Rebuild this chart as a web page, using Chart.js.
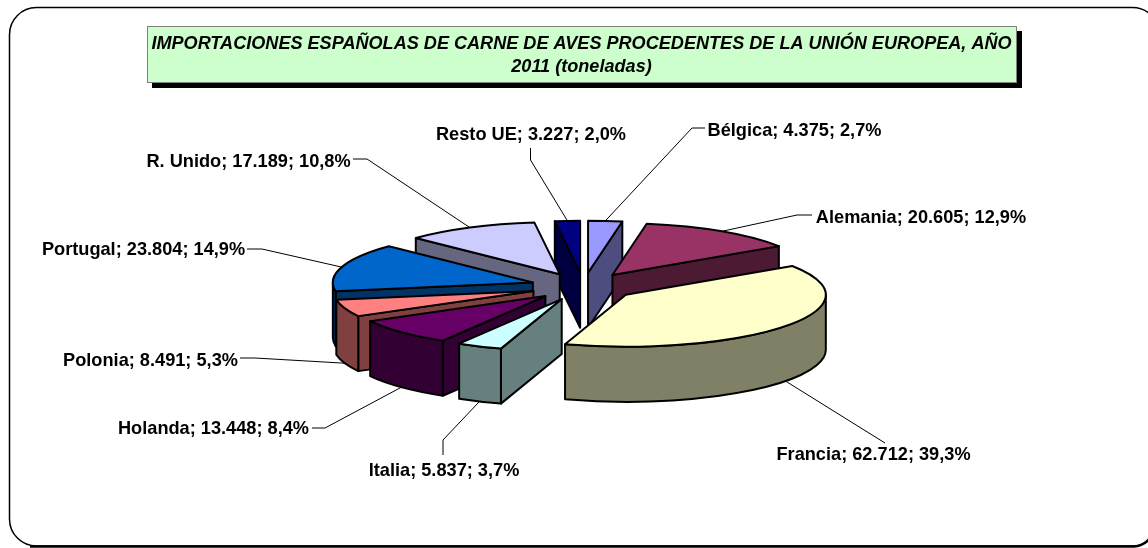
<!DOCTYPE html>
<html><head><meta charset="utf-8">
<style>html,body{margin:0;padding:0;background:#fff;overflow:hidden}canvas{display:block}</style>
<script src="https://cdn.jsdelivr.net/npm/chart.js@4"></script>
</head><body>
<canvas id="c" width="1148" height="548"></canvas>
<script>
const titleLines = ['IMPORTACIONES ESPAÑOLAS DE CARNE DE AVES PROCEDENTES DE LA UNIÓN EUROPEA, AÑO','2011 (toneladas)'];
const categories = ['Bélgica','Alemania','Francia','Italia','Holanda','Polonia','Portugal','R. Unido','Resto UE'];
const valueText = ['4.375','20.605','62.712','5.837','13.448','8.491','23.804','17.189','3.227'];
const percentText = ['2,7%','12,9%','39,3%','3,7%','8,4%','5,3%','14,9%','10,8%','2,0%'];
const values = [4375,20605,62712,5837,13448,8491,23804,17189,3227];
const topColors = ['#9999FF','#993366','#FFFFCC','#CCFFFF','#660066','#FF8080','#0066CC','#CCCCFF','#000080'];
const sideColors = ['#4D4D80','#4D1A33','#808066','#668080','#330033','#804040','#003366','#666680','#000040'];

// label layout: text centre and the leader's start/elbow
const labelX = [794.5,921,873.5,444,213.5,150.5,143.5,248.5,531];
const labelY = [131,218,455,471,429,361,250,162,135];
const leadStart = [[705,128],[812,215],[885,443],[443,455],[312,428],[240,358],[247,249],[353,159],[530.5,148]];
const leadElbow = [[692,128],[797,215],null,[443,440],[325,428],[255,358],[262,249],[367,159],[530.5,160]];

const RADIUS=200, SQUASH=0.26, EXPLODE=53, DEPTH=55;

function geom(arc,chart){
  const p = arc.getProps(['x','y','startAngle','endAngle','outerRadius'],true);
  const mid=(p.startAngle+p.endAngle)/2;
  const y0=(chart.chartArea.top+chart.chartArea.bottom)/2;
  return {a:p.startAngle,b:p.endAngle,mid,r:p.outerRadius,cx:p.x,cy:y0+(p.y-y0)*SQUASH,y0};
}
function rim(g,ang){return [g.cx+g.r*Math.cos(ang), g.cy+g.r*SQUASH*Math.sin(ang)];}

function drawWalls(ctx,g,fill){
  ctx.fillStyle=fill; ctx.strokeStyle='#000'; ctx.lineWidth=2; ctx.lineJoin='round';
  const quad=(ang)=>{
    const e=rim(g,ang);
    ctx.beginPath();ctx.moveTo(g.cx,g.cy);ctx.lineTo(e[0],e[1]);ctx.lineTo(e[0],e[1]+DEPTH);ctx.lineTo(g.cx,g.cy+DEPTH);ctx.closePath();
    ctx.fill();ctx.stroke();
  };
  if(-Math.cos(g.a)>1e-6) quad(g.a);
  if(Math.cos(g.b)>1e-6) quad(g.b);
  const s=Math.max(g.a,0), e=Math.min(g.b,Math.PI);
  if(e>s){
    ctx.beginPath();
    ctx.ellipse(g.cx,g.cy,g.r,g.r*SQUASH,0,s,e);
    ctx.ellipse(g.cx,g.cy+DEPTH,g.r,g.r*SQUASH,0,e,s,true);
    ctx.closePath();ctx.fill();ctx.stroke();
  }
}

const pie3d = {
  id:'pie3d',
  afterDatasetsUpdate(chart){
    // explode every slice equally along its own mid-angle
    chart.getDatasetMeta(0).data.forEach(a=>{
      const mid=(a.startAngle+a.endAngle)/2;
      a.x+=Math.cos(mid)*EXPLODE; a.y+=Math.sin(mid)*EXPLODE;
    });
  },
  beforeDraw(chart){
    const ctx=chart.ctx; ctx.save();
    ctx.fillStyle='#fff';ctx.fillRect(0,0,chart.width,chart.height);
    // outer rounded frame
    ctx.strokeStyle='#000';ctx.lineWidth=1.5;
    ctx.beginPath();ctx.roundRect(9.5,7.5,1150,538.5,27);ctx.stroke();
    ctx.lineWidth=2.5;ctx.beginPath();ctx.moveTo(30,546.5);ctx.lineTo(1134,546.5);ctx.quadraticCurveTo(1144,546,1150,538);ctx.stroke();
    // title box
    ctx.fillStyle='#000';ctx.fillRect(152,31,870,57);
    ctx.fillStyle='#CCFFCC';ctx.fillRect(147,26,870,57);
    ctx.strokeStyle='#808080';ctx.lineWidth=1;ctx.strokeRect(147.5,26.5,869,56);
    ctx.fillStyle='#000';ctx.font='italic bold 18.1px "Liberation Sans"';ctx.textAlign='center';ctx.textBaseline='middle';
    ctx.fillText(titleLines[0],581.5,44);ctx.fillText(titleLines[1],581.5,67);
    ctx.restore();
  },
  beforeDatasetsDraw(chart){
    const ctx=chart.ctx, arcs=chart.getDatasetMeta(0).data;
    const order=arcs.map((a,i)=>({i,g:geom(a,chart)})).sort((p,q)=>Math.sin(p.g.mid)-Math.sin(q.g.mid));
    order.forEach(o=>drawWalls(ctx,o.g,sideColors[o.i]));
    const y0=order[0].g.y0;
    ctx.save();
    ctx.translate(0,y0);ctx.scale(1,SQUASH);ctx.translate(0,-y0);
  },
  afterDatasetsDraw(chart){
    const ctx=chart.ctx, arcs=chart.getDatasetMeta(0).data;
    ctx.restore();
    ctx.strokeStyle='#000';ctx.lineWidth=2;ctx.lineJoin='round';
    arcs.forEach(a=>{
      const g=geom(a,chart);
      ctx.beginPath();ctx.moveTo(g.cx,g.cy);
      ctx.ellipse(g.cx,g.cy,g.r,g.r*SQUASH,0,g.a,g.b);
      ctx.closePath();ctx.stroke();
    });
    // leaders and labels
    ctx.save();
    ctx.lineWidth=1;ctx.strokeStyle='#000';
    arcs.forEach((a,i)=>{
      const g=geom(a,chart); const e=rim(g,g.mid);
      const y=e[1]+(Math.sin(g.mid)>0?DEPTH:0);
      ctx.beginPath();ctx.moveTo(leadStart[i][0],leadStart[i][1]);
      if(leadElbow[i])ctx.lineTo(leadElbow[i][0],leadElbow[i][1]);
      ctx.lineTo(e[0],y);ctx.stroke();
    });
    ctx.fillStyle='#000';ctx.font='bold 18.2px "Liberation Sans"';ctx.textAlign='center';ctx.textBaseline='middle';
    categories.forEach((c,i)=>ctx.fillText(c+'; '+valueText[i]+'; '+percentText[i],labelX[i],labelY[i]));
    ctx.restore();
  }
};

new Chart(document.getElementById('c'),{
  type:'pie',
  data:{labels:categories,datasets:[{
    data:values,
    backgroundColor:topColors,
    borderWidth:0,
    clip:false
  }]},
  options:{
    responsive:false,animation:false,
    radius:RADIUS,
    layout:{padding:{left:19,top:25}},
    events:[],
    plugins:{legend:{display:false},tooltip:{enabled:false},title:{display:false}}
  },
  plugins:[pie3d]
});
</script>
</body></html>
